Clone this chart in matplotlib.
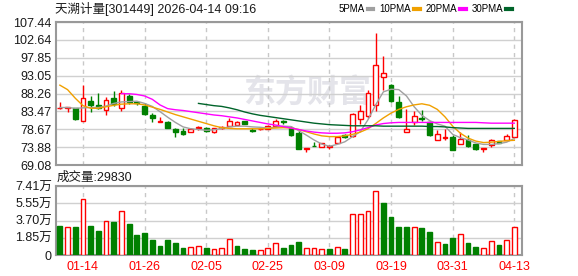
import numpy as np
import matplotlib
matplotlib.use("Agg")
import matplotlib.pyplot as plt
from matplotlib.lines import Line2D

plt.rcParams['font.family'] = ['Liberation Sans', 'Noto Sans CJK SC']

# --- data ---
dates = ["01-09", "01-12", "01-13", "01-14", "01-15", "01-16", "01-19", "01-20", "01-21", "01-22",
         "01-23", "01-26", "01-27", "01-28", "01-29", "01-30", "02-02", "02-03", "02-04", "02-05",
         "02-06", "02-09", "02-10", "02-11", "02-12", "02-13", "02-24", "02-25", "02-26", "02-27",
         "03-02", "03-03", "03-04", "03-05", "03-06", "03-09", "03-10", "03-11", "03-12", "03-13",
         "03-16", "03-17", "03-18", "03-19", "03-20", "03-23", "03-24", "03-25", "03-26", "03-27",
         "03-30", "03-31", "04-01", "04-02", "04-03", "04-07", "04-08", "04-09", "04-10", "04-13"]

opens = [84.3, 84.5, 84.4, 81.0, 86.3, 85.2, 83.8, 87.1, 84.5, 87.5,
         85.9, 85.0, 82.6, 80.7, 80.6, 78.8, 78.3, 77.9, 79.1, 78.95,
         77.9, 79.1, 79.5, 79.9, 80.75, 78.6, 78.7, 78.8, 79.5, 80.9,
         78.9, 77.6, 73.5, 74.25, 73.9, 74.0, 75.0, 77.1, 76.8, 81.5,
         82.1, 85.3, 92.8, 90.5, 85.9, 77.9, 80.6, 81.6, 80.5, 75.9,
         76.4, 76.6, 74.7, 75.9, 74.6, 73.5, 74.5, 75.5, 75.8, 76.7]
highs = [85.9, 84.7, 84.5, 90.5, 87.7, 88.3, 87.2, 88.9, 89.1, 88.2,
         86.3, 85.7, 83.1, 81.9, 81.0, 79.05, 79.1, 78.9, 79.6, 79.4,
         79.1, 79.5, 81.65, 80.9, 81.0, 78.9, 79.0, 79.7, 81.5, 81.1,
         79.5, 78.5, 73.6, 75.3, 75.0, 74.5, 76.7, 77.4, 83.0, 85.3,
         89.3, 104.4, 98.3, 90.9, 87.6, 84.0, 83.5, 83.7, 80.9, 78.4,
         78.8, 77.0, 78.0, 77.0, 74.8, 73.6, 76.0, 75.6, 77.4, 81.3]
lows = [84.1, 83.2, 81.2, 80.9, 83.4, 84.1, 82.4, 85.0, 83.6, 85.5,
        85.3, 82.6, 80.6, 80.6, 79.0, 76.55, 77.2, 77.8, 78.6, 77.9,
        77.7, 78.8, 79.5, 79.7, 79.95, 78.0, 78.4, 78.7, 79.4, 80.0,
        76.9, 73.3, 72.6, 74.1, 73.8, 73.4, 74.9, 76.4, 76.6, 80.1,
        81.8, 83.5, 89.3, 85.9, 81.8, 77.8, 79.9, 80.8, 76.8, 75.8,
        75.9, 73.1, 74.6, 73.9, 73.1, 72.7, 74.0, 74.9, 75.5, 76.6]
closes = [84.5, 84.6, 81.3, 87.0, 85.3, 84.5, 86.5, 85.4, 88.3, 86.0,
          85.6, 82.8, 81.6, 80.8, 79.05, 77.9, 77.3, 78.8, 79.2, 78.2,
          78.95, 79.3, 80.75, 80.6, 80.1, 78.1, 78.8, 79.5, 80.75, 80.5,
          77.2, 73.5, 73.55, 74.15, 74.9, 74.2, 76.6, 76.5, 82.7, 83.5,
          88.3, 96.0, 93.7, 86.3, 82.0, 78.7, 82.2, 81.4, 77.2, 77.3,
          76.7, 73.2, 76.1, 74.2, 73.3, 73.55, 75.9, 75.0, 76.9, 81.1]
prev_close = 85.2  # close before the first visible day

# volume in units of 万 (10k shares)
volume = [3.11, 2.97, 3.01, 5.98, 3.11, 2.58, 3.62, 3.54, 4.69, 3.33,
          2.15, 2.36, 1.61, 0.97, 1.61, 1.32, 0.75, 0.82, 0.93, 0.75,
          0.61, 0.72, 1.68, 0.97, 0.64, 0.54, 0.50, 0.72, 1.25, 0.75,
          1.07, 1.40, 0.72, 0.72, 0.61, 0.64, 0.82, 0.64, 4.40, 4.40,
          4.73, 6.84, 5.59, 4.08, 3.01, 3.01, 2.97, 2.90, 2.47, 1.36,
          1.18, 1.83, 2.26, 1.29, 0.86, 0.72, 1.47, 1.07, 1.58, 2.983]

nan = np.nan
ma5 = [84.5, 84.5, 84.3, 84.4, 84.5, 84.5, 84.9, 85.6, 86.0, 86.1,
       86.2, 85.6, 84.8, 83.4, 81.9, 80.5, 79.3, 78.8, 78.6, 78.4,
       78.5, 78.9, 79.3, 79.5, 79.5, 79.3, 79.2, 79.0, 79.2, 79.5,
       79.4, 78.3, 77.1, 75.8, 74.7, 74.1, 74.6, 75.3, 76.7, 78.0,
       81.2, 85.2, 88.7, 89.4, 89.3, 87.6, 84.7, 82.4, 81.0, 80.1,
       79.5, 77.3, 76.4, 75.8, 75.0, 74.6, 74.6, 74.8, 75.2, 76.2]
ma10 = [90.5, 89.3, 87.0, 85.0, 84.3, 84.3, 84.7, 85.1, 85.4, 85.5,
        85.5, 85.2, 84.6, 84.0, 83.3, 82.6, 82.0, 81.4, 80.8, 80.2,
        79.6, 79.1, 78.9, 78.8, 78.8, 78.8, 78.8, 78.9, 79.0, 79.1,
        79.0, 78.6, 78.0, 77.4, 76.9, 76.7, 76.7, 76.9, 77.3, 77.9,
        78.8, 80.2, 81.7, 83.0, 84.0, 84.7, 85.2, 85.5, 85.1, 84.0,
        82.0, 79.5, 77.6, 76.3, 75.5, 75.1, 75.2, 75.4, 75.6, 75.7]
ma20 = [nan, nan, nan, nan, nan, nan, nan, nan, 88.2, 88.2,
        88.0, 87.6, 86.7, 85.2, 84.2, 83.9, 83.7, 83.4, 83.1, 82.8,
        82.5, 82.3, 82.0, 81.7, 81.3, 80.9, 80.5, 80.1, 79.8, 79.4,
        79.0, 78.6, 78.2, 77.9, 77.7, 77.6, 77.6, 77.7, 78.0, 78.5,
        79.1, 79.8, 80.2, 80.4, 80.5, 80.5, 80.5, 80.5, 80.5, 80.5,
        80.5, 80.5, 80.5, 80.5, 80.5, 80.4, 80.3, 80.3, 80.3, 80.3]
ma30 = [nan, nan, nan, nan, nan, nan, nan, nan, nan, nan,
        nan, nan, nan, nan, nan, nan, nan, nan, 85.6, 85.3,
        85.0, 84.8, 84.4, 83.9, 83.3, 82.8, 82.4, 82.1, 81.8, 81.5,
        81.2, 80.9, 80.6, 80.3, 80.1, 79.9, 79.8, 79.7, 79.6, 79.6,
        79.6, 79.6, 79.5, 79.5, 79.5, 79.5, 79.5, 79.5, 79.4, 79.4,
        79.3, 79.1, 79.0, 78.9, 78.9, 78.9, 78.9, 78.9, 78.9, 78.9]

price_ticks = [69.08, 73.88, 78.67, 83.47, 88.26, 93.05, 97.85, 102.64, 107.44]
vol_ticks = [0, 1.85, 3.70, 5.55, 7.41]
vol_labels = ["0", "1.85万", "3.70万", "5.55万", "7.41万"]
label_every = 8
label_start = 3

# --- figure ---
W, H = 578, 276
RED = "#ff0000"
GREEN = "#008000"
FRAME = "#999999"
GRID = "#d0d0d0"
TXT = "#1a1a1a"

fig = plt.figure(figsize=(W / 100, H / 100), dpi=100)
ax = fig.add_axes([56 / W, 1 - 165 / H, 466 / W, 143 / H])
axv = fig.add_axes([56 / W, 1 - 255 / H, 466 / W, 69 / H])

x = np.arange(len(dates))
o = np.array(opens)
c = np.array(closes)
hi = np.array(highs)
lo = np.array(lows)
up = c >= o

# candles
for i in x:
    ax.vlines(i, lo[i], hi[i], color=RED if up[i] else GREEN, lw=1, zorder=3)
body_lo = np.minimum(o, c)
body_h = np.maximum(np.abs(c - o), 0.12)
ax.bar(x[up], body_h[up], bottom=body_lo[up], width=0.62, facecolor="white",
       edgecolor=RED, lw=1, zorder=4)
ax.bar(x[~up], body_h[~up], bottom=body_lo[~up], width=0.62, facecolor=GREEN,
       edgecolor=GREEN, lw=1, zorder=4)

# moving averages
ma_styles = [("5PMA", ma5, "#a0a0a0"), ("10PMA", ma10, "#f0a000"),
             ("20PMA", ma20, "#ff00ff"), ("30PMA", ma30, "#00642a")]
for name, vals, col in ma_styles:
    ax.plot(x, vals, color=col, lw=1, zorder=5)

# watermark
ax.text(0.54, 0.50, "东方财富", transform=ax.transAxes, fontsize=23,
        fontweight="bold", color="#e4e4ea", ha="center", va="center",
        family=["Noto Sans CJK SC"], zorder=0.5)

# volume (colour by change vs previous close)
pc = np.concatenate([[prev_close], c[:-1]])
vup = c >= pc
vol = np.array(volume)
axv.bar(x[vup], vol[vup], width=0.62, facecolor="white", edgecolor=RED, lw=1, zorder=3)
axv.bar(x[~vup], vol[~vup], width=0.62, facecolor=GREEN, edgecolor=GREEN, lw=1, zorder=3)

# axes styling
tick_pos = x[label_start::label_every]
for a in (ax, axv):
    a.set_xlim(-0.5, 60.0)
    for s in a.spines.values():
        s.set_color(FRAME)
        s.set_linewidth(1.5)
    a.set_xticks(tick_pos)
    a.tick_params(length=0, labelsize=9, colors=TXT, pad=3)
    a.grid(axis="y", color=GRID, lw=1, ls="-")
    a.grid(axis="x", color="#c8c8c8", lw=1, ls=(0, (3, 3)))
    a.set_axisbelow(True)

ax.set_ylim(price_ticks[0], price_ticks[-1])
ax.set_yticks(price_ticks)
ax.set_yticklabels([f"{t:.2f}" for t in price_ticks])
ax.set_xticklabels([])

axv.set_ylim(0, vol_ticks[-1])
axv.set_yticks(vol_ticks)
axv.set_yticklabels(vol_labels)
axv.set_xticklabels([dates[i] for i in tick_pos], color=RED)
axv.tick_params(axis="x", pad=4)

# header texts
fig.text(55 / W, 1 - 9 / H, "天溯计量[301449] 2026-04-14 09:16", fontsize=9,
         va="center", ha="left", color=TXT)
fig.text(57 / W, 1 - 178 / H, f"成交量:{round(volume[-1] * 10000)}", fontsize=9,
         va="center", ha="left", color=TXT)

handles = [Line2D([], [], color=col, lw=3) for _, _, col in ma_styles]
fig.legend(handles, [n for n, _, _ in ma_styles], loc="center right",
           bbox_to_anchor=(512 / W, 1 - 9 / H), ncol=4, frameon=False,
           markerfirst=False, handlelength=0.6, handletextpad=0.3,
           columnspacing=0.6, fontsize=7, borderaxespad=0, borderpad=0)

fig.savefig("out.png", dpi=100)
